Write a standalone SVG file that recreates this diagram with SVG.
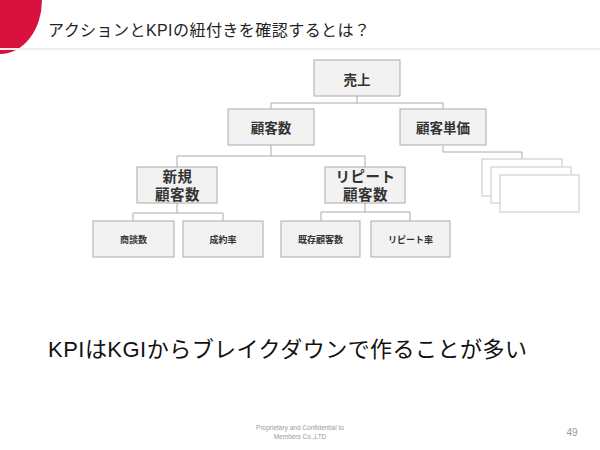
<svg xmlns="http://www.w3.org/2000/svg" width="600" height="450" viewBox="0 0 600 450">
<style>
.f{font-family:"Liberation Sans","Noto Sans CJK JP",sans-serif}
.box{fill:#f2f2f2;stroke:#aaaaaa;stroke-width:1}
.card{fill:#ffffff;stroke:#d9d9d9;stroke-width:1.5}
.conn{fill:none;stroke:#aaaaaa;stroke-width:1}
.t1{font-size:13.5px;font-weight:bold;fill:#333;text-anchor:middle}
.t2{font-size:14.5px;font-weight:bold;fill:#333;text-anchor:middle;letter-spacing:0.5px}
.t3{font-size:9px;font-weight:bold;fill:#333;text-anchor:middle}
</style>
<rect width="600" height="450" fill="#ffffff"/>
<ellipse cx="0" cy="0" rx="42" ry="54" fill="#d8113d"/>
<rect x="0" y="48" width="600" height="2" fill="#eeeeee"/>
<text class="f" x="48" y="36" font-size="16" fill="#222" textLength="322" lengthAdjust="spacing">アクションとKPIの紐付きを確認するとは？</text>

<g id="connectors">
<path class="conn" d="M357,96 V103 M271,109 V103 H443 V109"/>
<path class="conn" d="M271,145 V156 M177,167 V156 H365 V167"/>
<path class="conn" d="M177,203 V213 M133,221 V213 H223 V221"/>
<path class="conn" d="M365,203 V212 M321,221 V212 H410 V221"/>
<path class="conn" d="M443,146 V152 H522 V159"/>
</g>

<g id="uriage"><rect class="box" x="314" y="60" width="86" height="36"/><text class="f t1" x="357" y="85">売上</text></g>
<g id="kokyakusu"><rect class="box" x="228" y="109" width="86" height="36"/><text class="f t1" x="271" y="132.5">顧客数</text></g>
<g id="kokyakutanka"><rect class="box" x="400" y="109" width="86" height="36"/><text class="f t1" x="443" y="132.5">顧客単価</text></g>
<g id="cards">
<rect class="card" x="482" y="159" width="80" height="37"/>
<rect class="card" x="491" y="167" width="80" height="36"/>
<rect class="card" x="500" y="175" width="79" height="37"/>
</g>
<g id="shinki"><rect class="box" x="137" y="167" width="80" height="36"/><text class="f t2" x="177.5" y="181.5">新規</text><text class="f t2" x="177.5" y="199.5">顧客数</text></g>
<g id="repeat"><rect class="box" x="325" y="167" width="80" height="36"/><text class="f t2" x="365.5" y="181.5">リピート</text><text class="f t2" x="365.5" y="199.5">顧客数</text></g>
<g id="shodan"><rect class="box" x="93" y="221" width="81" height="36"/><text class="f t3" x="133.5" y="243">商談数</text></g>
<g id="seiyaku"><rect class="box" x="183" y="221" width="80" height="36"/><text class="f t3" x="223" y="243">成約率</text></g>
<g id="kizon"><rect class="box" x="281" y="221" width="79" height="36"/><text class="f t3" x="320.5" y="243">既存顧客数</text></g>
<g id="repeatrate"><rect class="box" x="371" y="221" width="79" height="36"/><text class="f t3" x="410.5" y="243">リピート率</text></g>

<text class="f" x="48" y="357" font-size="22" fill="#111" textLength="479" lengthAdjust="spacing">KPIはKGIからブレイクダウンで作ることが多い</text>

<text class="f" x="300" y="430" font-size="6.5" fill="#999" text-anchor="middle">Proprietary and Confidential to</text>
<text class="f" x="300" y="438.5" font-size="6.5" fill="#999" text-anchor="middle">Members Co.,LTD</text>
<text class="f" x="572" y="436" font-size="10" fill="#999" text-anchor="middle">49</text>
</svg>
